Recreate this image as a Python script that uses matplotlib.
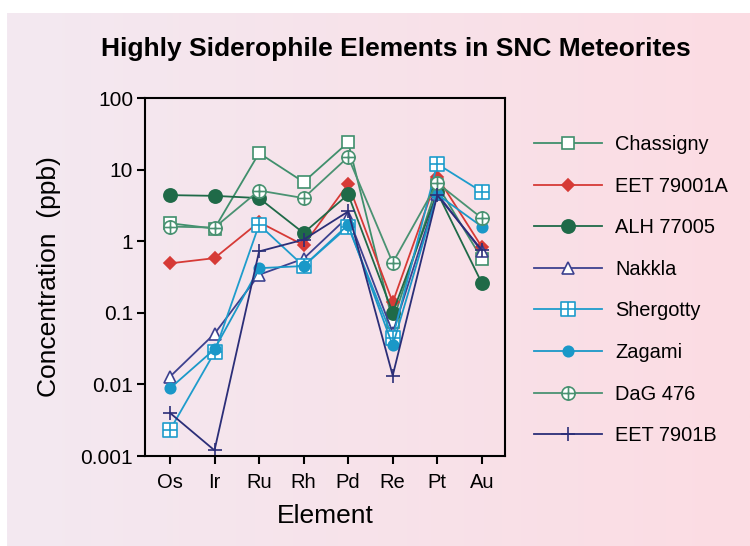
import numpy as np
import matplotlib
matplotlib.use('Agg')
import matplotlib.pyplot as plt
from matplotlib.path import Path
from matplotlib.ticker import FixedLocator, FixedFormatter, NullLocator

plt.rcParams['font.family'] = ['Liberation Sans', 'DejaVu Sans']

# data (ppb)
elements = ['Os', 'Ir', 'Ru', 'Rh', 'Pd', 'Re', 'Pt', 'Au']
chassigny = [1.78, 1.5, 17, 6.7, 24, 0.075, 6.1, 0.57]
eet79001a = [0.49, 0.58, 1.85, 0.88, 6.3, 0.14, 7.9, 0.83]
alh77005 = [4.4, 4.3, 4.0, 1.3, 4.5, 0.1, 4.8, 0.26]
nakkla = [0.0128, 0.051, 0.34, 0.57, 2.2, 0.053, 4.6, 0.72]
shergotty = [0.0023, 0.028, 1.7, 0.45, 1.6, 0.045, 12, 4.9]
zagami = [0.0088, 0.031, 0.42, 0.45, 1.7, 0.035, 4.5, 1.6]
dag476 = [1.6, 1.55, 5.1, 4.0, 15, 0.5, 6.5, 2.1]
eet7901b = [0.0040, 0.0012, 0.72, 1.05, 2.6, 0.0133, 4.4, 0.75]

series_names = ['Chassigny', 'EET 79001A', 'ALH 77005', 'Nakkla',
                'Shergotty', 'Zagami', 'DaG 476', 'EET 7901B']
series_values = [chassigny, eet79001a, alh77005, nakkla,
                 shergotty, zagami, dag476, eet7901b]

# custom markers: square with cross, circle with cross
sq = [(-1, -1), (1, -1), (1, 1), (-1, 1), (-1, -1)]
verts = sq + [(0, -1), (0, 1), (-1, 0), (1, 0)]
codes = [Path.MOVETO] + [Path.LINETO] * 3 + [Path.CLOSEPOLY] + \
        [Path.MOVETO, Path.LINETO, Path.MOVETO, Path.LINETO]
box_plus = Path(verts, codes)
circ = Path.unit_circle()
circ_plus = Path(list(circ.vertices) + [(0, -1), (0, 1), (-1, 0), (1, 0)],
                 list(circ.codes) + [Path.MOVETO, Path.LINETO, Path.MOVETO, Path.LINETO])

styles = [
    dict(color='#3f8f6c', marker='s', mfc='white', ms=9),
    dict(color='#d63a36', marker='D', mfc='#d63a36', ms=6.5),
    dict(color='#1f6a48', marker='o', mfc='#1f6a48', ms=9.5),
    dict(color='#3d418f', marker='^', mfc='white', ms=9),
    dict(color='#1e9ccc', marker=box_plus, mfc='white', ms=9.5),
    dict(color='#1a98c8', marker='o', mfc='#1a98c8', ms=7.5),
    dict(color='#4a9272', marker=circ_plus, mfc='white', ms=9.5),
    dict(color='#2b2e78', marker='+', mfc='none', ms=10),
]

fig = plt.figure(figsize=(7.5, 5.46), dpi=100)
fig.patch.set_facecolor('white')

# background gradient panel
bg = fig.add_axes([7 / 750, 0, 1 - 7 / 750, 1 - 13 / 546], zorder=-10)
grad = np.linspace(0, 1, 256)
c0 = np.array([243, 233, 241]) / 255
c1 = np.array([252, 220, 227]) / 255
img = c0[None, :] * (1 - grad[:, None]) + c1[None, :] * grad[:, None]
bg.imshow(img[None, :, :], aspect='auto', extent=[0, 1, 0, 1])
bg.axis('off')

ax = fig.add_axes([145 / 750, 1 - 456 / 546, 360 / 750, 358 / 546])
ax.set_facecolor('none')

x = np.arange(len(elements))
for name, vals, st in zip(series_names, series_values, styles):
    ax.plot(x, vals, label=name, color=st['color'], lw=1.3,
            marker=st['marker'], mfc=st['mfc'], mec=st['color'],
            ms=st['ms'], mew=1.2)

ax.set_yscale('log')
ax.set_ylim(0.001, 100)
ax.set_xlim(-0.56, 7.52)
ax.yaxis.set_major_locator(FixedLocator([0.001, 0.01, 0.1, 1, 10, 100]))
ax.yaxis.set_major_formatter(FixedFormatter(['0.001', '0.01', '0.1', '1', '10', '100']))
ax.yaxis.set_minor_locator(NullLocator())
ax.set_xticks(x)
ax.set_xticklabels(elements)
ax.tick_params(axis='both', direction='out', length=6, width=1.5)
ax.tick_params(axis='x', labelsize=14.5, pad=6)
ax.tick_params(axis='y', labelsize=15, pad=2.5)
for s in ax.spines.values():
    s.set_linewidth(1.5)

ax.set_ylabel('Concentration  (ppb)', fontsize=19, labelpad=14)
ax.set_xlabel('Element', fontsize=19, labelpad=9)

fig.text(0.528, 0.91, 'Highly Siderophile Elements in SNC Meteorites',
         ha='center', va='center', fontsize=19, fontweight='bold',
         family=['Liberation Sans Narrow', 'Liberation Sans', 'DejaVu Sans'])

ax.legend(loc='upper left', bbox_to_anchor=(534 / 750, 1 - 135 / 546),
          bbox_transform=fig.transFigure, frameon=False, fontsize=14.4,
          handlelength=3.4, handletextpad=0.65, labelspacing=1.13,
          borderaxespad=0, borderpad=0)

fig.savefig('out.png', dpi=100)
